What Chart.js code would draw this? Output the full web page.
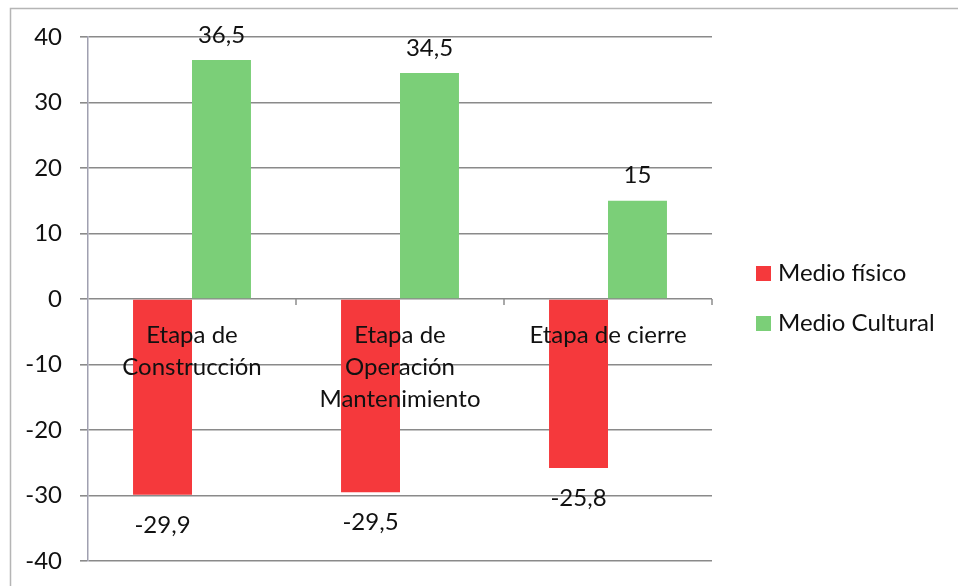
<!DOCTYPE html>
<html>
<head>
<meta charset="utf-8">
<script src="https://cdn.jsdelivr.net/npm/chart.js@4.4.0/dist/chart.umd.min.js"></script>
<style>
  html, body { margin: 0; padding: 0; background: #fff; overflow: hidden; }
  canvas { display: block; }
</style>
</head>
<body>
<canvas id="impactChart" width="958" height="586"></canvas>
<script>
// data
const categories = [['Etapa de', 'Construcción'], ['Etapa de', 'Operación', 'Mantenimiento'], ['Etapa de cierre']];
const seriesNames = ['Medio físico', 'Medio Cultural'];
const medioFisico = [-29.9, -29.5, -25.8];
const medioCultural = [36.5, 34.5, 15];
const yMin = -40, yMax = 40, yStep = 10;

const FONT = 'Lato';
const textColor = '#111';
const colors = ['#f5393c', '#7bcf78'];

const fmt = v => String(v).replace('.', ',');

// frame, category labels at the zero line, value labels, legend
const extras = {
    id: 'extras',
    beforeDraw(chart) {
        const ctx = chart.ctx;
        ctx.save();
        ctx.strokeStyle = '#b5b5b5';
        ctx.lineWidth = 1.5;
        ctx.beginPath();
        ctx.moveTo(10.5, chart.height);
        ctx.lineTo(10.5, 8.5);
        ctx.lineTo(chart.width, 8.5);
        ctx.stroke();
        ctx.restore();
    },
    afterDatasetsDraw(chart) {
        const ctx = chart.ctx;
        const xs = chart.scales.x, ys = chart.scales.y;
        const zero = ys.getPixelForValue(0);
        ctx.save();

        // small ticks on the zero line between categories
        ctx.strokeStyle = '#8c8c8c';
        ctx.lineWidth = 1.5;
        const half = (xs.getPixelForValue(1) - xs.getPixelForValue(0)) / 2;
        for (let i = 0; i < categories.length; i++) {
            const bx = xs.getPixelForValue(i) + half;
            ctx.beginPath();
            ctx.moveTo(bx, zero);
            ctx.lineTo(bx, zero + 6);
            ctx.stroke();
        }

        ctx.fillStyle = textColor;
        ctx.font = '24px ' + FONT;
        ctx.textAlign = 'center';
        ctx.textBaseline = 'middle';
        categories.forEach((lines, i) => {
            const cx = xs.getPixelForValue(i);
            lines.forEach((line, j) => {
                ctx.fillText(line, cx, zero + 36 + j * 32);
            });
        });

        chart.data.datasets.forEach((ds, di) => {
            const meta = chart.getDatasetMeta(di);
            meta.data.forEach((bar, i) => {
                const v = ds.data[i];
                const y = v < 0 ? bar.y + 30 : bar.y - 25;
                ctx.fillText(fmt(v), bar.x, y);
            });
        });

        // legend
        ctx.textAlign = 'left';
        seriesNames.forEach((name, i) => {
            const cy = 273 + i * 50;
            ctx.fillStyle = colors[i];
            ctx.fillRect(756, cy - 7, 15, 15);
            ctx.fillStyle = textColor;
            ctx.fillText(name, 778, cy);
        });
        ctx.restore();
    }
};

new Chart(document.getElementById('impactChart').getContext('2d'), {
    type: 'bar',
    data: {
        labels: categories,
        datasets: [{
            label: seriesNames[0],
            data: medioFisico,
            backgroundColor: colors[0]
        }, {
            label: seriesNames[1],
            data: medioCultural,
            backgroundColor: colors[1]
        }]
    },
    options: {
        responsive: false,
        animation: false,
        layout: { padding: { left: 0, right: 246, top: 37, bottom: 25 } },
        datasets: { bar: { categoryPercentage: 0.567, barPercentage: 1 } },
        plugins: {
            legend: { display: false },
            tooltip: { enabled: false }
        },
        scales: {
            x: { display: false },
            y: {
                min: yMin,
                max: yMax,
                ticks: {
                    stepSize: yStep,
                    padding: 18,
                    color: textColor,
                    font: { family: FONT, size: 24 }
                },
                grid: { color: '#8a8a8a', lineWidth: 1.6, tickLength: 8 },
                border: { color: '#a0a0b0', width: 1.5 },
                afterFit(scale) {
                    scale.width = 88;
                    scale.paddingTop = 0;
                    scale.paddingBottom = 0;
                }
            }
        }
    },
    plugins: [extras]
});
</script>
</body>
</html>
